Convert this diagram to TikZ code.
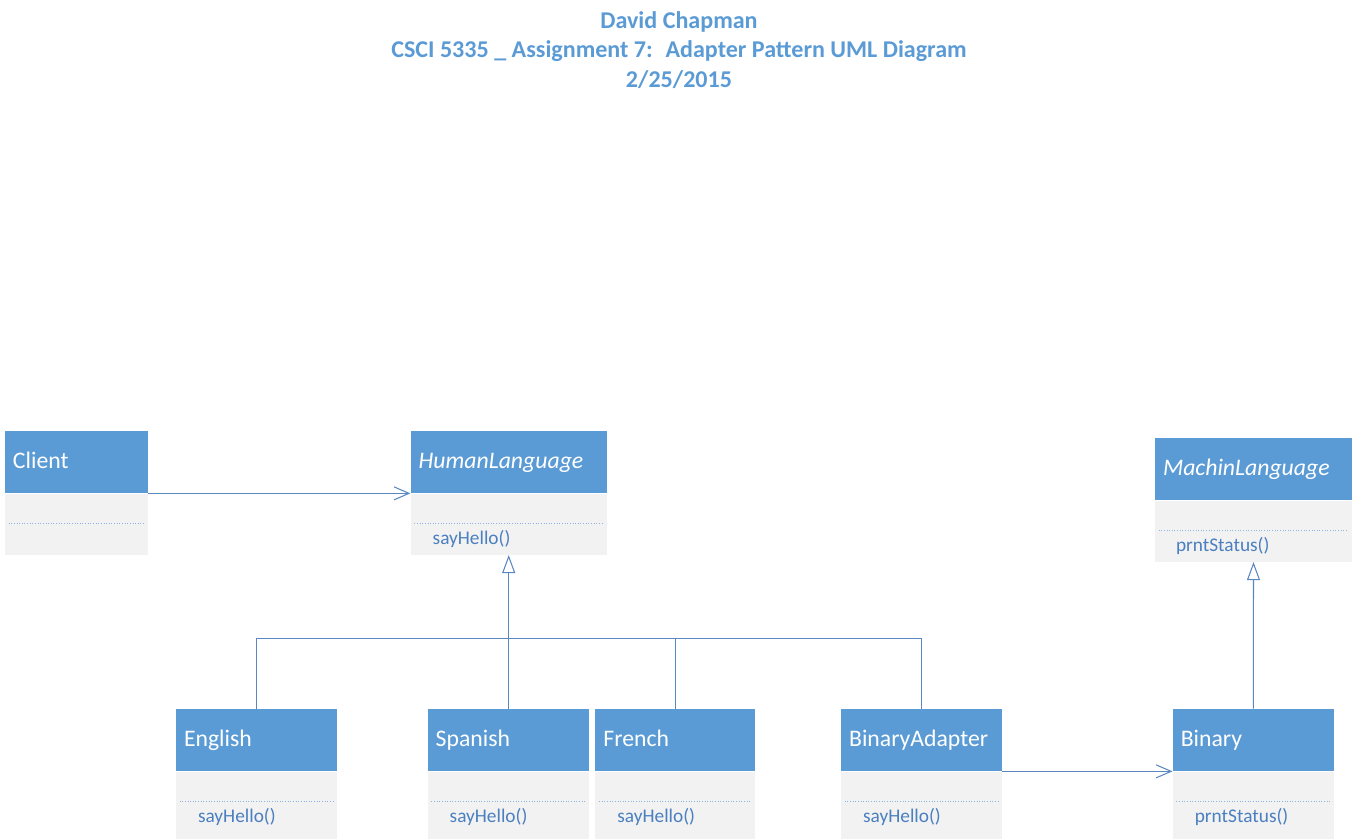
\documentclass[tikz,border=0pt]{standalone}
\usepackage{fontspec}
\setmainfont{Carlito}
\usetikzlibrary{positioning,arrows.meta}
\definecolor{hdblue}{HTML}{5B9BD5}
\definecolor{bdgray}{HTML}{F2F2F2}
\definecolor{lnblue}{HTML}{5A87BF}
\definecolor{txblue}{HTML}{4A7FC0}
\definecolor{dotblue}{HTML}{8DB3E2}

\begin{document}
\begin{tikzpicture}[head/.style={rectangle,fill=hdblue,text=white,text width=#1,align=left,inner xsep=0.16cm,minimum height=1.24cm,text height=10pt,text depth=3pt,font=\fontsize{13.5}{15}\selectfont},body/.style={rectangle,fill=bdgray,text width=#1,inner xsep=0.16cm,minimum height=1.22cm},meth/.style={anchor=west,inner sep=0pt,text=txblue,font=\fontsize{11}{13}\selectfont},sep/.style={draw=dotblue,densely dotted,line width=0.5pt},line/.style={draw=lnblue,line width=0.6pt},assoc/.style={line,-{Straight Barb[length=0.3cm,width=0.26cm]}},inherit/.style={line,-{Triangle[fill=white,length=0.36cm,width=0.26cm]}}] %
    \useasboundingbox (0,0) rectangle (27.08,16.76);
    \node[text=hdblue,align=center,font=\bfseries\fontsize{13.7}{16.7}\selectfont] (title) at (13.58,15.76) {David Chapman\\CSCI 5335 \_ Assignment 7:~ Adapter Pattern UML Diagram\\2/25/2015} ; %
    % classes
    \node[head=2.54cm] (client) at (1.53,7.52) {Client} ; %
    \node[body=2.54cm, below=0pt of client] (clientb) {} ; %
    \node[head=3.60cm, right=5.24cm of client] (human) {\textit{HumanLanguage}} ; %
    \node[body=3.60cm, below=0pt of human] (humanb) {} ; %
    \node[head=3.62cm] (machin) at (25.07,7.38) {\textit{MachinLanguage}} ; %
    \node[body=3.62cm, below=0pt of machin] (machinb) {} ; %
    \node[head=2.90cm] (english) at (5.13,1.96) {English} ; %
    \node[head=2.90cm, right=1.80cm of english] (spanish) {Spanish} ; %
    \node[head=2.88cm, right=0.12cm of spanish] (french) {French} ; %
    \node[head=2.90cm, right=1.70cm of french] (binad) {BinaryAdapter} ; %
    \node[head=2.90cm, right=3.40cm of binad] (binary) {Binary} ; %
    \node[body=2.90cm, below=0pt of english, minimum height=1.40cm] (englishb) {} ; %
    \node[body=2.90cm, below=0pt of spanish, minimum height=1.40cm] (spanishb) {} ; %
    \node[body=2.88cm, below=0pt of french, minimum height=1.40cm] (frenchb) {} ; %
    \node[body=2.90cm, below=0pt of binad, minimum height=1.40cm] (binadb) {} ; %
    \node[body=2.90cm, below=0pt of binary, minimum height=1.40cm] (binaryb) {} ; %
    \foreach \b in {clientb,humanb,machinb,englishb,spanishb,frenchb,binadb,binaryb}
      \draw[sep] ([xshift=0.08cm,yshift=-0.60cm]\b.north west) -- ([xshift=-0.08cm,yshift=-0.60cm]\b.north east);
    % operations
    \node[meth] (humanm) at ([xshift=0.44cm,yshift=-0.92cm]humanb.north west) {sayHello()} ; %
    \node[meth] (machinm) at ([xshift=0.42cm,yshift=-0.92cm]machinb.north west) {prntStatus()} ; %
    \node[meth] (englishm) at ([xshift=0.44cm,yshift=-0.92cm]englishb.north west) {sayHello()} ; %
    \node[meth] (spanishm) at ([xshift=0.44cm,yshift=-0.92cm]spanishb.north west) {sayHello()} ; %
    \node[meth] (frenchm) at ([xshift=0.44cm,yshift=-0.92cm]frenchb.north west) {sayHello()} ; %
    \node[meth] (binadm) at ([xshift=0.44cm,yshift=-0.92cm]binadb.north west) {sayHello()} ; %
    \node[meth] (binarym) at ([xshift=0.44cm,yshift=-0.92cm]binaryb.north west) {prntStatus()} ; %
    % relations
    \coordinate[below=1.66cm of humanb.south] (bus) ; %
    \draw[assoc] (client.south east) -- (human.south west) ; %
    \draw[line] (english.north) |- (bus) ; %
    \draw[line] (binad.north) |- (bus) ; %
    \draw[line] (spanish.north) -- (spanish.north |- bus) ; %
    \draw[line] (french.north) -- (french.north |- bus) ; %
    \draw[inherit] (bus) -- (humanb.south) ; %
    \draw[assoc] (binad.south east) -- (binary.south west) ; %
    \draw[inherit] (binary.north) -- (machinb.south) ; %
  \end{tikzpicture}
\end{document}
